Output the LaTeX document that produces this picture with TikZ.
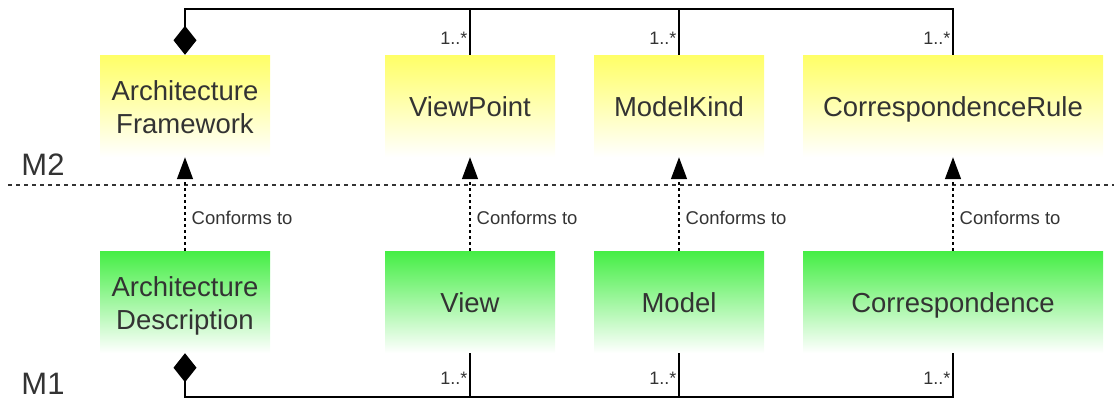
\documentclass[tikz,border=0pt]{standalone}
\usepackage{fontspec}
\setmainfont{Liberation Sans}
\usetikzlibrary{arrows.meta}
\definecolor{mtwo}{HTML}{FFFF66}
\definecolor{mone}{HTML}{44EE44}
\definecolor{txt}{HTML}{333333}
\newcommand{\boxh}{102pt}
\newcommand{\boxtext}[1]{\raisebox{-4pt}[\height][\depth]{\begin{tabular}{@{}c@{}}#1\end{tabular}}}

\begin{document}
\begin{tikzpicture}[x=1pt,y=-1pt]
    \useasboundingbox (0,0) rectangle (1114,408);

    % M2 and M1 elements
    \begin{scope}[every node/.style={minimum height=\boxh,minimum width=170pt,inner sep=0pt,
        text=txt,font=\fontsize{27.5}{33}\selectfont}]
        \node[top color=mtwo,bottom color=white] (af) at (185,106) {\boxtext{Architecture\\Framework}};
        \node[top color=mtwo,bottom color=white] (vp) at (470,106) {\boxtext{ViewPoint}};
        \node[top color=mtwo,bottom color=white] (mk) at (679,106) {\boxtext{ModelKind}};
        \node[top color=mtwo,bottom color=white,minimum width=300pt] (cr) at (953,106) {\boxtext{CorrespondenceRule}};
        \node[top color=mone,bottom color=white] (ad) at (185,302) {\boxtext{Architecture\\Description}};
        \node[top color=mone,bottom color=white] (vw) at (470,302) {\boxtext{View}};
        \node[top color=mone,bottom color=white] (md) at (679,302) {\boxtext{Model}};
        \node[top color=mone,bottom color=white,minimum width=300pt] (co) at (953,302) {\boxtext{Correspondence}};
    \end{scope}

    % levels
    \begin{scope}[every node/.style={text=txt,font=\fontsize{31}{36}\selectfont,inner sep=0pt}]
        \node (m2) at (43,165) {M2};
        \node (m1) at (43,384) {M1};
    \end{scope}
    \draw[txt,line width=1.2pt,dash pattern=on 4pt off 4pt] (8,185) -- (1114,185);

    % aggregations
    \coordinate (topbar) at (0,9);
    \coordinate (botbar) at (0,397);
    \begin{scope}[line width=1.3pt,
        every node/.style={text=txt,font=\fontsize{18}{21}\selectfont,left,inner sep=2pt}]
        \draw[{Diamond[length=29pt,width=23pt]}-] (af.north) -- (af.north |- topbar) -| (cr.north);
        \draw (vp.north) -- node[pos=.37] {1..*} (vp.north |- topbar);
        \draw (mk.north) -- node[pos=.37] {1..*} (mk.north |- topbar);
        \path (cr.north) -- node[pos=.37] {1..*} (cr.north |- topbar);

        \draw[{Diamond[length=29pt,width=23pt]}-] (ad.south) -- (ad.south |- botbar) -| (co.south);
        \draw (vw.south) -- node[pos=.57] {1..*} (vw.south |- botbar);
        \draw (md.south) -- node[pos=.57] {1..*} (md.south |- botbar);
        \path (co.south) -- node[pos=.57] {1..*} (co.south |- botbar);
    \end{scope}

    % conformance
    \begin{scope}[every edge/.style={draw=black,line width=1.4pt,dash pattern=on 3pt off 3pt,
        -{Triangle[length=22pt,width=16pt]}},
        every node/.style={text=txt,font=\fontsize{18.5}{22}\selectfont,right,inner sep=6pt}]
        \path (ad) edge node[pos=.35] {Conforms to} (af);
        \path (vw) edge node[pos=.35] {Conforms to} (vp);
        \path (md) edge node[pos=.35] {Conforms to} (mk);
        \path (co) edge node[pos=.35] {Conforms to} (cr);
    \end{scope}
\end{tikzpicture}
\end{document}
